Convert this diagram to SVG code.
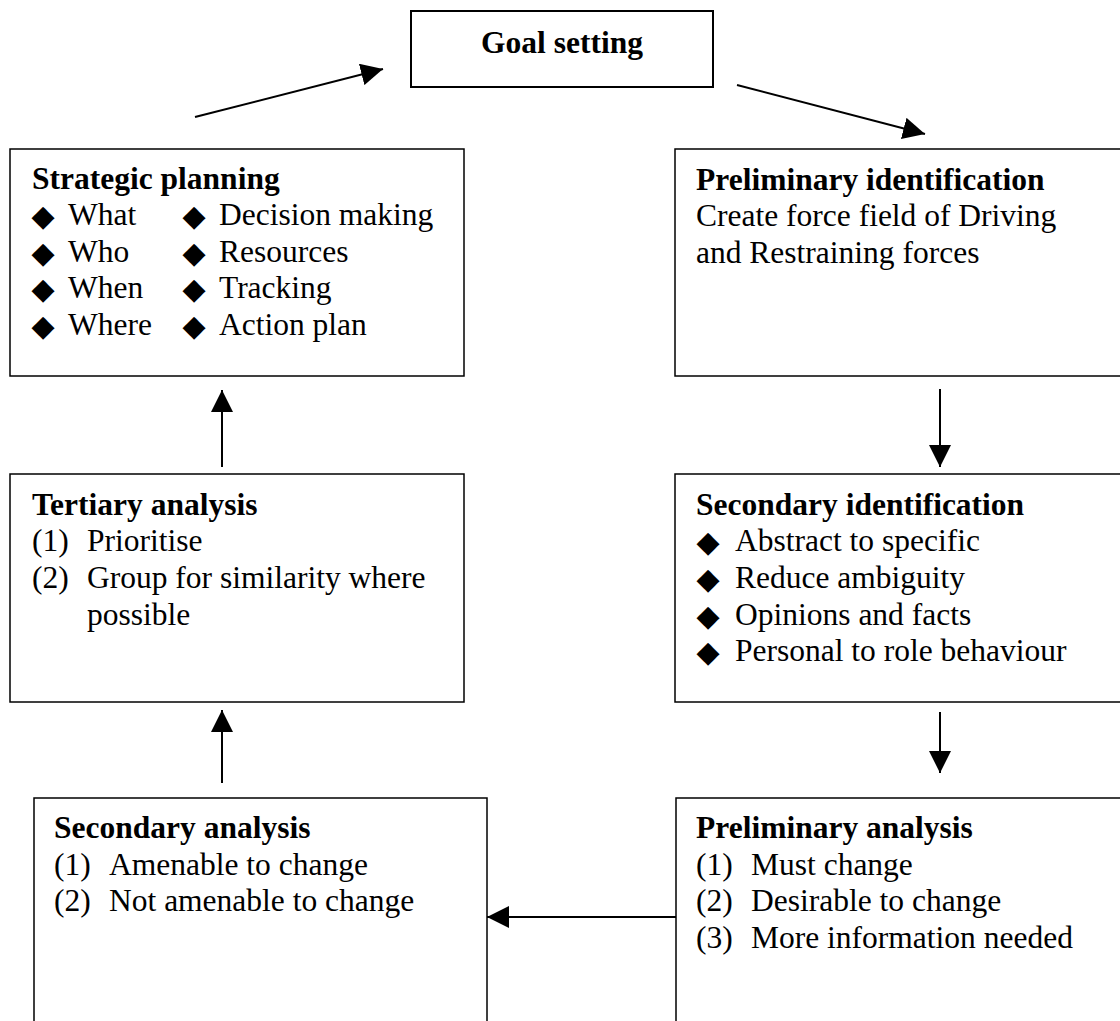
<svg xmlns="http://www.w3.org/2000/svg" width="1120" height="1021" viewBox="0 0 1120 1021">
  <style>
    .box { fill: #ffffff; stroke: #000000; stroke-width: 1.5; }
    .goal { fill: #ffffff; stroke: #000000; stroke-width: 2; }
    text { font-family: "Liberation Serif", "Times New Roman", serif; font-size: 31.5px; fill: #000000; }
    .b { font-weight: bold; }
    .bul { font-family: "DejaVu Sans", sans-serif; font-size: 30px; text-anchor: middle; }
    .conn { stroke: #000000; stroke-width: 2; fill: none; marker-end: url(#arrow); }
  </style>
  <defs>
    <marker id="arrow" markerUnits="userSpaceOnUse" markerWidth="22" markerHeight="22" refX="22" refY="11" orient="auto">
      <path d="M0,0 L22,11 L0,22 Z" fill="#000000"/>
    </marker>
  </defs>
  <rect width="1120" height="1021" fill="#ffffff"/>

  <g id="goal-setting">
    <rect class="goal" x="411" y="11" width="302" height="76"/>
    <text class="b" x="562" y="53" text-anchor="middle">Goal setting</text>
  </g>

  <g id="strategic-planning">
    <rect class="box" x="10" y="149" width="454" height="227"/>
    <text class="b" x="32" y="189">Strategic planning</text>
    <text class="bul" x="43" y="226">◆</text><text x="68" y="225">What</text>
    <text class="bul" x="43" y="263">◆</text><text x="68" y="262">Who</text>
    <text class="bul" x="43" y="299">◆</text><text x="68" y="298">When</text>
    <text class="bul" x="43" y="336">◆</text><text x="68" y="335">Where</text>
    <text class="bul" x="194" y="226">◆</text><text x="219" y="225">Decision making</text>
    <text class="bul" x="194" y="263">◆</text><text x="219" y="262">Resources</text>
    <text class="bul" x="194" y="299">◆</text><text x="219" y="298">Tracking</text>
    <text class="bul" x="194" y="336">◆</text><text x="219" y="335">Action plan</text>
  </g>

  <g id="preliminary-identification">
    <rect class="box" x="675" y="149" width="460" height="227"/>
    <text class="b" x="696" y="190">Preliminary identification</text>
    <text x="696" y="226">Create force field of Driving</text>
    <text x="696" y="263">and Restraining forces</text>
  </g>

  <g id="tertiary-analysis">
    <rect class="box" x="10" y="474" width="454" height="228"/>
    <text class="b" x="32" y="515">Tertiary analysis</text>
    <text x="32" y="551">(1)</text><text x="87" y="551">Prioritise</text>
    <text x="32" y="588">(2)</text><text x="87" y="588">Group for similarity where</text>
    <text x="87" y="625">possible</text>
  </g>

  <g id="secondary-identification">
    <rect class="box" x="675" y="474" width="460" height="228"/>
    <text class="b" x="696" y="515">Secondary identification</text>
    <text class="bul" x="708" y="552">◆</text><text x="735" y="551">Abstract to specific</text>
    <text class="bul" x="708" y="589">◆</text><text x="735" y="588">Reduce ambiguity</text>
    <text class="bul" x="708" y="626">◆</text><text x="735" y="625">Opinions and facts</text>
    <text class="bul" x="708" y="662">◆</text><text x="735" y="661">Personal to role behaviour</text>
  </g>

  <g id="secondary-analysis">
    <rect class="box" x="34" y="798" width="453" height="260"/>
    <text class="b" x="54" y="838">Secondary analysis</text>
    <text x="54" y="875">(1)</text><text x="109" y="875">Amenable to change</text>
    <text x="54" y="911">(2)</text><text x="109" y="911">Not amenable to change</text>
  </g>

  <g id="preliminary-analysis">
    <rect class="box" x="676" y="798" width="460" height="260"/>
    <text class="b" x="696" y="838">Preliminary analysis</text>
    <text x="696" y="875">(1)</text><text x="751" y="875">Must change</text>
    <text x="696" y="911">(2)</text><text x="751" y="911">Desirable to change</text>
    <text x="696" y="948">(3)</text><text x="751" y="948">More information needed</text>
  </g>

  <g id="connectors">
    <line class="conn" x1="195" y1="117" x2="383" y2="69"/>
    <line class="conn" x1="737" y1="85" x2="925" y2="134"/>
    <line class="conn" x1="940" y1="389" x2="940" y2="467"/>
    <line class="conn" x1="940" y1="712" x2="940" y2="773"/>
    <line class="conn" x1="676" y1="917" x2="487" y2="917"/>
    <line class="conn" x1="222" y1="783" x2="222" y2="710"/>
    <line class="conn" x1="222" y1="467" x2="222" y2="390"/>
  </g>
</svg>
